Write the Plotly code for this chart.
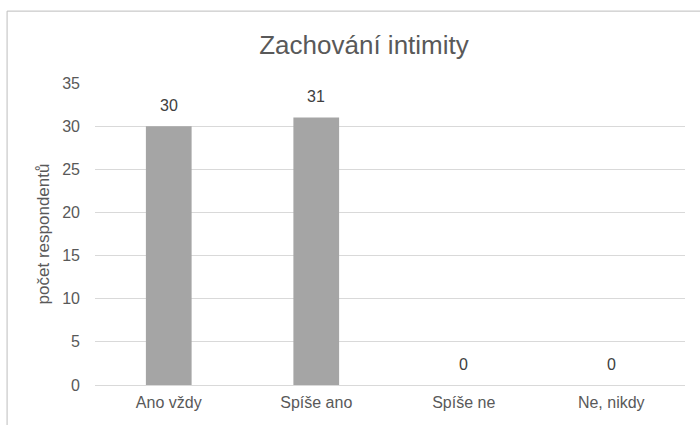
import plotly.graph_objects as go

# Survey answers and respondent counts
categories = ["Ano vždy", "Spíše ano", "Spíše ne", "Ne, nikdy"]
counts = [30, 31, 0, 0]
y_ticks = [0, 5, 10, 15, 20, 25, 30, 35]

FONT = "Liberation Sans, Arial, Helvetica, sans-serif"
TEXT_GREY = "#595959"

fig = go.Figure(
    go.Bar(
        x=categories,
        y=counts,
        marker=dict(color="#a5a5a5", line=dict(width=0)),
        width=0.31,
        hoverinfo="x+y",
    )
)

# Value labels above each bar
for cat, val in zip(categories, counts):
    fig.add_annotation(
        x=cat, y=val, text=str(val), showarrow=False,
        yanchor="middle", yshift=21,
        font=dict(family=FONT, size=16, color="#404040"),
    )

# Thin frame around the chart area
fig.add_shape(
    type="rect", xref="paper", yref="paper",
    x0=-0.149, x1=1.05, y0=-0.3, y1=1.238,
    line=dict(color="#bdbdbd", width=1), fillcolor="rgba(0,0,0,0)",
    layer="below",
)

fig.update_layout(
    width=700, height=425,
    margin=dict(l=95, r=15, t=83, b=40),
    paper_bgcolor="white", plot_bgcolor="white",
    showlegend=False,
    bargap=0.69,
    title=dict(
        text="Zachování intimity", x=0.52, xanchor="center",
        y=0.894, yanchor="middle",
        font=dict(family=FONT, size=26, color=TEXT_GREY),
    ),
    font=dict(family=FONT, color=TEXT_GREY),
)

fig.update_xaxes(
    showgrid=False, showline=False, zeroline=False,
    tickfont=dict(family=FONT, size=16, color=TEXT_GREY),
    ticks="", ticklabelstandoff=6,
)
fig.update_yaxes(
    range=[0, 35], tickvals=y_ticks,
    showgrid=True, gridcolor="#d9d9d9", gridwidth=1,
    zeroline=True, zerolinecolor="#d9d9d9", zerolinewidth=1,
    showline=False, ticks="", ticklabelstandoff=14,
    tickfont=dict(family=FONT, size=16, color=TEXT_GREY),
    title=dict(text="počet respondentů", standoff=8,
               font=dict(family=FONT, size=17, color=TEXT_GREY)),
)

fig.write_html("out.html")
